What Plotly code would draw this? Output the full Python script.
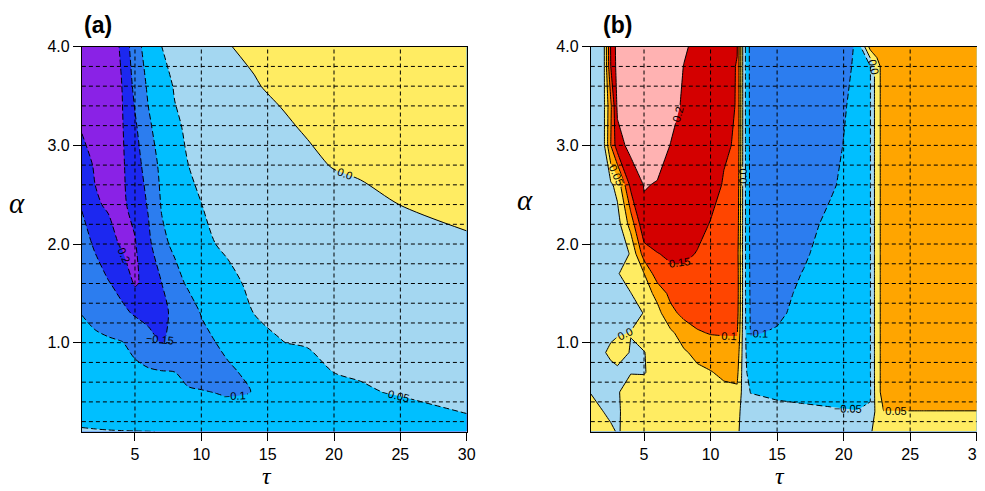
import plotly.graph_objects as go

# ---------------- data: panel (a) ----------------
TAU_A = [1, 2, 3, 4, 5, 6, 7, 8, 9, 10, 11, 12, 14, 16, 18, 20, 22, 25, 30]
ALPHA_A = [0.1, 0.3, 0.5, 0.7, 1.0, 1.3, 1.6, 2.0, 2.4, 2.8, 3.2, 3.6, 4.0]
Z_A = [
    [-0.048, -0.0485, -0.049, -0.0493, -0.0496, -0.0498, -0.0502, -0.051, -0.052, -0.053, -0.054, -0.055, -0.056, -0.057, -0.057, -0.057, -0.057, -0.056, -0.055],
    [-0.058, -0.06, -0.062, -0.064, -0.066, -0.068, -0.07, -0.072, -0.074, -0.076, -0.078, -0.079, -0.08, -0.079, -0.076, -0.071, -0.066, -0.059, -0.0495],
    [-0.066, -0.068, -0.071, -0.074, -0.077, -0.081, -0.085, -0.089, -0.093, -0.097, -0.101, -0.106, -0.099, -0.0885, -0.078, -0.066, -0.053, -0.0475, -0.0443],
    [-0.0746, -0.077, -0.08, -0.085, -0.09, -0.094, -0.097, -0.0995, -0.118, -0.122, -0.115, -0.106, -0.0907, -0.0764, -0.062, -0.0497, -0.0475, -0.0443, -0.0389],
    [-0.087, -0.09, -0.094, -0.098, -0.112, -0.132, -0.152, -0.14, -0.125, -0.112, -0.101, -0.091, -0.0716, -0.0505, -0.0475, -0.0447, -0.0419, -0.0377, -0.0307],
    [-0.101, -0.113, -0.124, -0.1395, -0.155, -0.165, -0.16, -0.141, -0.12, -0.098, -0.086, -0.074, -0.049, -0.0464, -0.043, -0.0396, -0.0362, -0.031, -0.0226],
    [-0.12, -0.133, -0.147, -0.165, -0.205, -0.185, -0.151, -0.115, -0.0946, -0.081, -0.0676, -0.054, -0.0466, -0.0427, -0.0387, -0.0348, -0.0308, -0.0249, -0.015],
    [-0.135, -0.155, -0.184, -0.205, -0.203, -0.1625, -0.11, -0.0917, -0.078, -0.064, -0.0502, -0.0475, -0.0426, -0.0376, -0.0327, -0.0277, -0.0228, -0.0153, -0.003],
    [-0.153, -0.195, -0.205, -0.207, -0.188, -0.145, -0.097, -0.081, -0.065, -0.0502, -0.0465, -0.043, -0.0366, -0.03, -0.0233, -0.0167, -0.01, 0.0003, 0.006],
    [-0.18, -0.205, -0.215, -0.207, -0.174, -0.125, -0.0895, -0.0696, -0.0502, -0.0453, -0.0406, -0.036, -0.0264, -0.017, -0.0075, 0.002, 0.006, 0.011, 0.017],
    [-0.205, -0.215, -0.215, -0.205, -0.157, -0.107, -0.079, -0.055, -0.045, -0.0395, -0.034, -0.028, -0.016, -0.005, 0.004, 0.009, 0.013, 0.018, 0.023],
    [-0.235, -0.23, -0.215, -0.2005, -0.1375, -0.093, -0.066, -0.047, -0.0396, -0.032, -0.025, -0.017, -0.002, 0.006, 0.01, 0.014, 0.017, 0.021, 0.025],
    [-0.24, -0.235, -0.22, -0.195, -0.118, -0.081, -0.0502, -0.041, -0.031, -0.022, -0.012, -0.001, 0.005, 0.01, 0.014, 0.017, 0.02, 0.023, 0.027],
]

# ---------------- data: panel (b) ----------------
TAU_B = [1, 2, 2.5, 3, 4, 5, 6, 7, 8, 9, 10, 11, 12, 12.5, 13, 15, 17, 19, 21, 22, 22.5, 23, 26, 30]
ALPHA_B = [0.1, 0.3, 0.5, 0.7, 0.9, 1.1, 1.3, 1.5, 1.7, 1.9, 2.2, 2.6, 3.0, 3.4, 3.8, 4.0]
Z_B = [
    [0.02, 0.01, 0.005, -0.002, 0.008, 0.012, 0.014, 0.015, 0.016, 0.016, 0.016, 0.015, 0.008,
     -0.02, -0.03, -0.033, -0.035, -0.037, -0.038, -0.01, 0.03, 0.035, 0.036, 0.036],
    [0.01, -0.0005, -0.006, -0.003, 0.01, 0.015, 0.018, 0.02, 0.022, 0.023, 0.024, 0.025, 0.015,
     -0.02, -0.035, -0.04, -0.043, -0.046, -0.049, -0.045, 0.02, 0.049, 0.049, 0.049],
    [-0.001, -0.01, -0.008, -0.002, 0.01, 0.015, 0.02, 0.025, 0.03, 0.033, 0.036, 0.04, 0.042,
     -0.025, -0.051, -0.057, -0.06, -0.062, -0.062, -0.055, 0.03, 0.07, 0.07, 0.07],
    [-0.02, -0.018, -0.015, -0.01, -0.001, -0.002, 0.012, 0.022, 0.032, 0.042, 0.048, 0.058, 0.062,
     -0.03, -0.075, -0.08, -0.078, -0.072, -0.066, -0.052, 0.03, 0.07, 0.07, 0.07],
    [-0.02, -0.003, 0.01, 0.02, -0.003, -0.001, 0.012, 0.028, 0.045, 0.06, 0.07, 0.078, 0.08,
     -0.03, -0.09, -0.093, -0.087, -0.078, -0.07, -0.052, 0.03, 0.07, 0.07, 0.071],
    [-0.02, -0.015, -0.01, -0.005, 0.001, 0.012, 0.025, 0.042, 0.07, 0.095, 0.103, 0.104, 0.104,
     -0.03, -0.102, -0.098, -0.09, -0.08, -0.072, -0.052, 0.03, 0.07, 0.07, 0.071],
    [-0.02, -0.02, -0.02, -0.018, -0.01, 0.001, 0.035, 0.085, 0.115, 0.122, 0.123, 0.122, 0.12,
     -0.03, -0.105, -0.104, -0.093, -0.082, -0.074, -0.052, 0.03, 0.07, 0.07, 0.072],
    [-0.02, -0.02, -0.018, -0.012, -0.001, 0.025, 0.065, 0.115, 0.128, 0.132, 0.13, 0.128, 0.125,
     -0.03, -0.107, -0.106, -0.096, -0.085, -0.076, -0.052, 0.03, 0.07, 0.071, 0.072],
    [-0.02, -0.02, -0.015, -0.003, 0.02, 0.049, 0.13, 0.14, 0.142, 0.14, 0.135, 0.13, 0.125,
     -0.03, -0.109, -0.109, -0.099, -0.087, -0.078, -0.052, 0.03, 0.07, 0.071, 0.073],
    [-0.02, -0.02, -0.02, -0.015, 0.002, 0.125, 0.148, 0.158, 0.158, 0.148, 0.135, 0.125, 0.12,
     -0.03, -0.11, -0.111, -0.103, -0.09, -0.08, -0.052, 0.03, 0.07, 0.072, 0.073],
    [-0.02, -0.02, -0.02, -0.02, 0.07, 0.19, 0.188, 0.186, 0.182, 0.162, 0.148, 0.138, 0.13,
     -0.03, -0.111, -0.114, -0.107, -0.095, -0.085, -0.052, 0.03, 0.07, 0.072, 0.074],
    [-0.02, -0.015, -0.008, 0.015, 0.165, 0.202, 0.198, 0.19, 0.183, 0.175, 0.165, 0.147, 0.138,
     -0.03, -0.112, -0.117, -0.111, -0.103, -0.09, -0.052, 0.03, 0.07, 0.073, 0.075],
    [-0.02, -0.005, 0.1, 0.18, 0.215, 0.225, 0.215, 0.199, 0.19, 0.18, 0.17, 0.155, 0.146,
     -0.03, -0.113, -0.119, -0.114, -0.107, -0.092, -0.052, 0.03, 0.07, 0.074, 0.076],
    [-0.02, -0.005, 0.09, 0.21, 0.225, 0.23, 0.225, 0.212, 0.195, 0.183, 0.172, 0.16, 0.148,
     -0.03, -0.114, -0.121, -0.116, -0.108, -0.095, -0.052, 0.03, 0.07, 0.074, 0.077],
    [-0.02, -0.005, 0.15, 0.218, 0.228, 0.232, 0.23, 0.218, 0.199, 0.187, 0.175, 0.163, 0.148,
     -0.03, -0.115, -0.123, -0.118, -0.112, -0.097, -0.052, 0.03, 0.07, 0.075, 0.078],
    [-0.02, -0.005, 0.155, 0.22, 0.23, 0.235, 0.235, 0.225, 0.205, 0.19, 0.178, 0.165, 0.152,
     -0.03, -0.115, -0.125, -0.12, -0.113, -0.098, 0.07, 0.075, 0.075, 0.078, 0.08],
]

# ---------------- levels / ticks ----------------
LEVEL_START = -0.2
LEVEL_END = 0.2
LEVEL_STEP = 0.05
BAND_COLORS = ["#8A22E6", "#1C28F0", "#2C7DEF", "#00BFFF", "#A4D7F1",
               "#FFEC62", "#FFA500", "#FF4500", "#D40000", "#FFB2B2"]
X_TICKS = [5, 10, 15, 20, 25, 30]
Y_TICKS = [1.0, 2.0, 3.0, 4.0]
X_GRID = [5, 10, 15, 20, 25]
Y_GRID = [0.2, 0.4, 0.6, 0.8, 1.0, 1.2, 1.4, 1.6, 1.8, 2.0, 2.2, 2.4, 2.6, 2.8, 3.0, 3.2, 3.4, 3.6, 3.8]

FONT = "Liberation Sans"

# discrete colorscale: one solid colour per band
nb = len(BAND_COLORS)
colorscale = []
for k, c in enumerate(BAND_COLORS):
    lo = 0.0 if k == 0 else (k - 0.5) / (nb - 1)
    hi = 1.0 if k == nb - 1 else (k + 0.5) / (nb - 1)
    colorscale.append([lo, c])
    colorscale.append([hi, c])

fig = go.Figure()


def add_panel(tau, alpha, z, xa, ya, smooth):
    fig.add_trace(go.Contour(
        x=tau, y=alpha, z=z, xaxis=xa, yaxis=ya,
        colorscale=colorscale, autocontour=False, showscale=False,
        contours=dict(start=LEVEL_START, end=LEVEL_END, size=LEVEL_STEP,
                      coloring="fill", showlines=False),
        line=dict(width=0, smoothing=smooth), hoverinfo="skip"))
    line_sets = [
        (LEVEL_START, -LEVEL_STEP, "6px,3px", ".2~f"),
        (0.0, 0.0, "solid", ".1f"),
        (LEVEL_STEP, LEVEL_END, "solid", ".2~f"),
    ]
    for s, e, dash, fmt in line_sets:
        fig.add_trace(go.Contour(
            x=tau, y=alpha, z=z, xaxis=xa, yaxis=ya,
            autocontour=False, showscale=False,
            contours=dict(start=s, end=e, size=LEVEL_STEP, coloring="none",
                          showlabels=True, labelformat=fmt,
                          labelfont=dict(size=11, color="black", family=FONT)),
            line=dict(color="black", width=1, dash=dash, smoothing=smooth),
            hoverinfo="skip"))


add_panel(TAU_A, ALPHA_A, Z_A, "x", "y", 0.8)
add_panel(TAU_B, ALPHA_B, Z_B, "x2", "y2", 0.0)

# page geometry: the page body adds an 8px margin, so the figure is
# placed at (8, 8) and sized to end exactly at the 985x491 window edge
REF_W, REF_H, OFF = 985, 491, 8
W, H = REF_W - OFF, REF_H - OFF


def fx(px):
    return (px - OFF) / W


def fy(py):
    return (REF_H - py) / H


yd = [fy(431.5), fy(46.7)]
xd1 = [fx(81.9), fx(466.7)]
xd2 = [fx(590.8), fx(976.7)]

axis_common = dict(showline=True, linecolor="black", linewidth=1, mirror=True,
                   ticks="outside", ticklen=8, tickwidth=1, tickcolor="black",
                   showgrid=False, zeroline=False, automargin=False,
                   ticklabeloverflow="allow",
                   tickfont=dict(size=16, family=FONT, color="black"))

fig.update_layout(
    width=W, height=H, margin=dict(l=0, r=0, t=0, b=0, pad=0),
    paper_bgcolor="white", plot_bgcolor="white", showlegend=False,
    xaxis=dict(domain=xd1, range=[TAU_A[0], TAU_A[-1]], tickvals=X_TICKS, anchor="y", **axis_common),
    yaxis=dict(domain=yd, range=[ALPHA_A[0], ALPHA_A[-1]], tickvals=Y_TICKS, tickformat=".1f", anchor="x", **axis_common),
    xaxis2=dict(domain=xd2, range=[TAU_B[0], TAU_B[-1]], tickvals=X_TICKS, anchor="y2", **axis_common),
    yaxis2=dict(domain=yd, range=[ALPHA_B[0], ALPHA_B[-1]], tickvals=Y_TICKS, tickformat=".1f", anchor="x2", **axis_common),
)

shapes = []
for xa, ya in (("x", "y"), ("x2", "y2")):
    for g in X_GRID:
        shapes.append(dict(type="line", xref=xa, yref=ya + " domain", x0=g, x1=g, y0=0, y1=1,
                           line=dict(color="black", width=1, dash="4px,3px"), layer="above"))
    for g in Y_GRID:
        shapes.append(dict(type="line", xref=xa + " domain", yref=ya, x0=0, x1=1, y0=g, y1=g,
                           line=dict(color="black", width=1, dash="4px,3px"), layer="above"))
fig.update_layout(shapes=shapes)

ann = []
for txt, x in (("(a)", 82), ("(b)", 601)):
    ann.append(dict(text="<b>" + txt + "</b>", x=fx(x), y=fy(25), xref="paper", yref="paper",
                    xanchor="left", yanchor="middle", showarrow=False,
                    font=dict(size=23, family=FONT, color="black")))
for x, y in ((17, 203), (525, 200)):
    ann.append(dict(text="<i>α</i>", x=fx(x), y=fy(y), xref="paper", yref="paper", showarrow=False,
                    xanchor="center", yanchor="middle",
                    font=dict(size=29, family="Liberation Serif", color="black")))
for x in (267, 780):
    ann.append(dict(text="<i>τ</i>", x=fx(x), y=fy(490), xref="paper", yref="paper", showarrow=False,
                    xanchor="center", yanchor="bottom", borderpad=0,
                    font=dict(size=24, family="Liberation Serif", color="black")))
fig.update_layout(annotations=ann)

fig.write_html("out.html")
